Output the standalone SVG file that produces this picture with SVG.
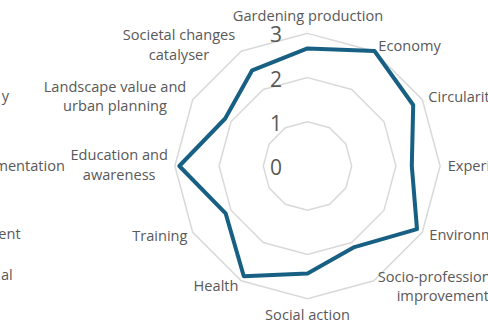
<svg xmlns="http://www.w3.org/2000/svg" width="488" height="332" viewBox="0 0 488 332">
<style>
.ring{fill:none;stroke:#d9d9d9;stroke-width:1.5;stroke-linejoin:miter}
.lbl{font-family:"Open Sans","Liberation Sans",sans-serif;font-size:14.6px;fill:#595959}
.num{font-family:"Open Sans","Liberation Sans",sans-serif;font-size:21px;fill:#595959;text-anchor:middle}
.series{fill:none;stroke:#176083;stroke-width:4;stroke-linejoin:round}
</style>
<rect width="488" height="332" fill="#ffffff"/>
<g id="grid">
<polygon class="ring" points="307.5,121.8 329.6,127.72 345.78,143.9 351.7,166 345.78,188.1 329.6,204.28 307.5,210.2 285.4,204.28 269.22,188.1 263.3,166 269.22,143.9 285.4,127.72"/>
<polygon class="ring" points="307.5,77.6 351.7,89.45 384.05,121.8 395.9,166 384.05,210.2 351.7,242.55 307.5,254.4 263.3,242.55 230.95,210.2 219.1,166 230.95,121.8 263.3,89.45"/>
<polygon class="ring" points="307.5,33.4 373.8,51.17 422.33,99.7 440.1,166 422.33,232.3 373.8,280.83 307.5,298.6 241.2,280.83 192.67,232.3 174.9,166 192.67,99.7 241.2,51.17"/>
</g>
<g id="scale">
<text class="num" x="276" y="41.7">3</text>
<text class="num" x="276" y="87.3">2</text>
<text class="num" x="276" y="130.5">1</text>
<text class="num" x="276" y="175">0</text>
</g>
<g id="series">
<polygon class="series" points="307.5,48.4 374.5,51 413.2,105 411.8,166 417,229.2 354.4,247.1 307.5,273.4 243.8,276.2 225.6,213.3 179.3,166 225.2,118.5 252.2,70.3"/>
</g>
<g id="labels">
<text class="lbl" x="308" y="21" text-anchor="middle">Gardening production</text>
<text class="lbl" x="378.3" y="51">Economy</text>
<text class="lbl" x="428.3" y="102">Circularity</text>
<text class="lbl" x="447.7" y="171">Experimentation</text>
<text class="lbl" x="429.3" y="239.5">Environment</text>
<text class="lbl" x="377.7" y="281.5">Socio-professional</text>
<text class="lbl" x="396.7" y="300.5">improvement</text>
<text class="lbl" x="307.5" y="320" text-anchor="middle">Social action</text>
<text class="lbl" x="238.5" y="290.7" text-anchor="end">Health</text>
<text class="lbl" x="187.5" y="240.7" text-anchor="end">Training</text>
<text class="lbl" x="119.2" y="160" text-anchor="middle">Education and</text>
<text class="lbl" x="119.2" y="179.7" text-anchor="middle">awareness</text>
<text class="lbl" x="115" y="91.5" text-anchor="middle">Landscape value and</text>
<text class="lbl" x="115" y="110.7" text-anchor="middle">urban planning</text>
<text class="lbl" x="179" y="40" text-anchor="middle">Societal changes</text>
<text class="lbl" x="179" y="59.7" text-anchor="middle">catalyser</text>
<text class="lbl" x="9" y="101" text-anchor="end">y</text>
<text class="lbl" x="65" y="170.7" text-anchor="end">mentation</text>
<text class="lbl" x="20.7" y="239.3" text-anchor="end">ent</text>
<text class="lbl" x="12.7" y="280" text-anchor="end">al</text>
</g>
</svg>
